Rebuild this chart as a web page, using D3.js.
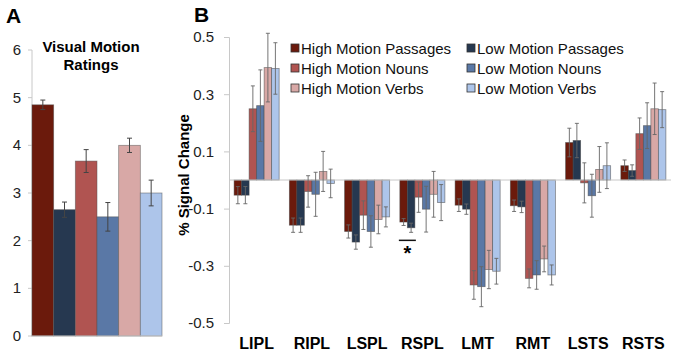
<!DOCTYPE html>
<html>
<head>
<meta charset="utf-8">
<script src="https://cdn.jsdelivr.net/npm/d3@7"></script>
<style>
  body { margin: 0; background: #fff; }
  svg { display: block; font-family: "Liberation Sans", Arial, sans-serif; }
</style>
</head>
<body>
<svg id="chart" width="680" height="356"></svg>
<script>
// conditions, same order in both panels
const conditions = ["High Motion Passages", "Low Motion Passages", "High Motion Nouns",
  "Low Motion Nouns", "High Motion Verbs", "Low Motion Verbs"];
const colors = ["#6b1a0c", "#263850", "#b05451", "#5a78a6", "#d8a8a6", "#adc5ea"];

// panel A : visual motion ratings
const ratings = [4.85, 2.65, 3.67, 2.5, 4.0, 3.0];
const ratingsErr = [0.1, 0.16, 0.24, 0.3, 0.15, 0.27];
const ratingTicks = [0, 1, 2, 3, 4, 5, 6];

// panel B : % signal change per region
const regions = ["LIPL", "RIPL", "LSPL", "RSPL", "LMT", "RMT", "LSTS", "RSTS"];
const hmPassages = [-0.053, -0.158, -0.18, -0.147, -0.088, -0.09, 0.131, 0.05];
const lmPassages = [-0.053, -0.158, -0.217, -0.167, -0.102, -0.094, 0.138, 0.033];
const hmNouns = [0.249, -0.04, -0.123, -0.06, -0.367, -0.344, -0.01, 0.162];
const lmNouns = [0.26, -0.05, -0.18, -0.102, -0.373, -0.332, -0.055, 0.19];
const hmVerbs = [0.393, 0.03, -0.138, -0.05, -0.313, -0.276, 0.037, 0.249];
const lmVerbs = [0.39, -0.012, -0.129, -0.079, -0.319, -0.332, 0.05, 0.246];
const hmPassagesErr = [0.03, 0.025, 0.023, 0.012, 0.022, 0.02, 0.05, 0.02];
const lmPassagesErr = [0.03, 0.025, 0.025, 0.016, 0.018, 0.02, 0.06, 0.02];
const hmNounsErr = [0.08, 0.055, 0.05, 0.053, 0.05, 0.033, 0.07, 0.055];
const lmNounsErr = [0.125, 0.077, 0.055, 0.08, 0.07, 0.05, 0.075, 0.08];
const hmVerbsErr = [0.12, 0.07, 0.05, 0.08, 0.067, 0.045, 0.08, 0.09];
const lmVerbsErr = [0.09, 0.05, 0.035, 0.063, 0.045, 0.035, 0.08, 0.063];
const signalTicks = [0.5, 0.3, 0.1, -0.1, -0.3, -0.5];

const seriesVals = [hmPassages, lmPassages, hmNouns, lmNouns, hmVerbs, lmVerbs];
const seriesErrs = [hmPassagesErr, lmPassagesErr, hmNounsErr, lmNounsErr, hmVerbsErr, lmVerbsErr];

const svg = d3.select("#chart");
const axisGray = "#c8c8c8";

// ---------- panel A ----------
const xA = d3.scaleBand().domain(conditions).range([32, 162]);
const yA = d3.scaleLinear().domain([0, 6]).range([336, 50]);

const gA = svg.append("g");
gA.append("line")
  .attr("x1", xA.range()[0]).attr("x2", xA.range()[0])
  .attr("y1", yA(6)).attr("y2", yA(0))
  .attr("stroke", axisGray);
gA.selectAll(".tickA")
  .data(ratingTicks)
  .join("line")
    .attr("x1", xA.range()[0] - 4).attr("x2", xA.range()[0])
    .attr("y1", d => yA(d)).attr("y2", d => yA(d))
    .attr("stroke", axisGray);
gA.selectAll(".tickLabelA")
  .data(ratingTicks)
  .join("text")
    .attr("x", 21).attr("y", d => yA(d) + 5)
    .attr("text-anchor", "end")
    .attr("font-size", 15)
    .attr("fill", "#222")
    .text(d => d);

gA.selectAll(".barA")
  .data(ratings)
  .join("rect")
    .attr("x", (d, i) => xA(conditions[i]))
    .attr("y", d => yA(d))
    .attr("width", xA.bandwidth())
    .attr("height", d => yA(0) - yA(d))
    .attr("fill", (d, i) => colors[i])
    .attr("stroke", "#555")
    .attr("stroke-opacity", 0.6)
    .attr("stroke-width", 0.8);

gA.append("line")
  .attr("x1", xA.range()[0]).attr("x2", xA.range()[1])
  .attr("y1", yA(0)).attr("y2", yA(0))
  .attr("stroke", axisGray);

// error bars A
ratings.forEach((v, i) => {
  const cx = xA(conditions[i]) + xA.bandwidth() / 2;
  const lo = yA(v - ratingsErr[i]), hi = yA(v + ratingsErr[i]);
  gA.append("line").attr("x1", cx).attr("x2", cx).attr("y1", lo).attr("y2", hi)
    .attr("stroke", "#444").attr("stroke-width", 1);
  [lo, hi].forEach(yy => {
    gA.append("line").attr("x1", cx - 2.5).attr("x2", cx + 2.5).attr("y1", yy).attr("y2", yy)
      .attr("stroke", "#444").attr("stroke-width", 1);
  });
});

gA.append("text").attr("x", 91).attr("y", 52)
  .attr("text-anchor", "middle").attr("font-size", 15).attr("font-weight", "bold")
  .text("Visual Motion");
gA.append("text").attr("x", 91).attr("y", 70)
  .attr("text-anchor", "middle").attr("font-size", 15).attr("font-weight", "bold")
  .text("Ratings");

svg.append("text").attr("x", 6).attr("y", 23)
  .attr("font-size", 21).attr("font-weight", "bold").text("A");

// ---------- panel B ----------
const x0 = d3.scaleBand().domain(regions).range([229, 671]);
const x1 = d3.scaleBand().domain(conditions).range([0, x0.bandwidth()]).paddingOuter(0.68);
const yB = d3.scaleLinear().domain([-0.5, 0.5]).range([323, 37]);

const gB = svg.append("g");

gB.append("g")
  .attr("transform", "translate(229,0)")
  .call(d3.axisLeft(yB).tickValues(signalTicks).tickSize(5).tickPadding(10)
    .tickFormat(d => d.toFixed(1)))
  .call(g => g.select(".domain").attr("stroke", axisGray))
  .call(g => g.selectAll(".tick line").attr("stroke", axisGray))
  .call(g => g.selectAll(".tick text")
    .attr("font-size", 15).attr("fill", "#222")
    .attr("font-family", "'Liberation Sans', Arial, sans-serif"));

const barData = [];
regions.forEach((r, ri) => {
  conditions.forEach((c, ci) => {
    barData.push({ region: r, cond: c, ci: ci, v: seriesVals[ci][ri], e: seriesErrs[ci][ri] });
  });
});

gB.selectAll(".barB")
  .data(barData)
  .join("rect")
    .attr("class", "barB")
    .attr("x", d => x0(d.region) + x1(d.cond))
    .attr("y", d => yB(Math.max(0, d.v)))
    .attr("width", x1.bandwidth())
    .attr("height", d => Math.abs(yB(d.v) - yB(0)))
    .attr("fill", d => colors[d.ci])
    .attr("stroke", "#444")
    .attr("stroke-opacity", 0.6)
    .attr("stroke-width", 0.8);

// zero line
gB.append("line")
  .attr("x1", x0.range()[0]).attr("x2", x0.range()[1])
  .attr("y1", yB(0)).attr("y2", yB(0))
  .attr("stroke", axisGray);

// error bars B
barData.forEach(d => {
  const cx = x0(d.region) + x1(d.cond) + x1.bandwidth() / 2;
  const lo = yB(d.v - d.e), hi = yB(d.v + d.e);
  gB.append("line").attr("x1", cx).attr("x2", cx).attr("y1", lo).attr("y2", hi)
    .attr("stroke", "#666").attr("stroke-width", 0.9);
  [lo, hi].forEach(yy => {
    gB.append("line").attr("x1", cx - 2).attr("x2", cx + 2).attr("y1", yy).attr("y2", yy)
      .attr("stroke", "#666").attr("stroke-width", 0.9);
  });
});

// region labels
gB.selectAll(".regionLabel")
  .data(regions)
  .join("text")
    .attr("x", d => x0(d) + x0.bandwidth() / 2)
    .attr("y", 349)
    .attr("text-anchor", "middle")
    .attr("font-size", 16)
    .attr("font-weight", "bold")
    .text(d => d);

// significance mark in RSPL (passages)
const sigX1 = x0("RSPL") + x1(conditions[0]);
const sigX2 = x0("RSPL") + x1(conditions[1]) + x1.bandwidth();
gB.append("line")
  .attr("x1", sigX1 - 1).attr("x2", sigX2 + 1)
  .attr("y1", yB(-0.211)).attr("y2", yB(-0.211))
  .attr("stroke", "#111").attr("stroke-width", 1.5);
gB.append("text")
  .attr("x", (sigX1 + sigX2) / 2).attr("y", 260)
  .attr("text-anchor", "middle").attr("font-size", 20).attr("font-weight", "bold")
  .text("*");

// y title
svg.append("text")
  .attr("transform", "translate(189,175) rotate(-90)")
  .attr("text-anchor", "middle")
  .attr("font-size", 15).attr("font-weight", "bold")
  .text("% Signal Change");

svg.append("text").attr("x", 194).attr("y", 22)
  .attr("font-size", 21).attr("font-weight", "bold").text("B");

// legend
const legendX = [291, 467];
const legend = svg.append("g");
conditions.forEach((c, i) => {
  const col = i % 2, row = Math.floor(i / 2);
  const lx = legendX[col], ly = 48 + row * 20;
  legend.append("rect")
    .attr("x", lx).attr("y", ly - 4).attr("width", 8).attr("height", 8)
    .attr("fill", colors[i]).attr("stroke", "#333").attr("stroke-width", 0.8);
  legend.append("text")
    .attr("x", lx + 10).attr("y", ly + 5.5)
    .attr("font-size", 15).attr("fill", "#111")
    .text(c);
});
</script>
</body>
</html>
